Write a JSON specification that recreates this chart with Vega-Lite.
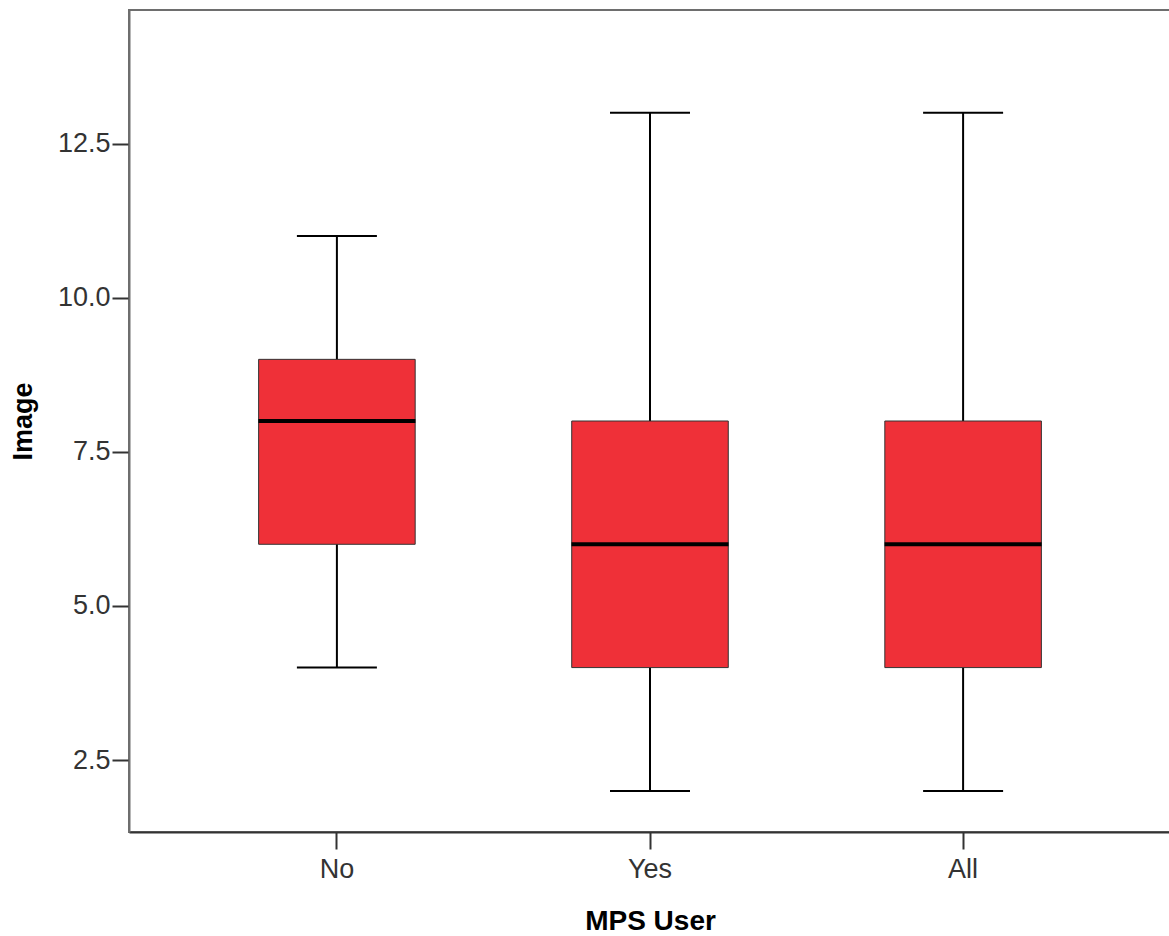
{
  "$schema": "https://vega.github.io/schema/vega-lite/v6.json",
  "autosize": {"type": "none"},
  "padding": {"left": 129, "top": 10, "right": 0, "bottom": 104},
  "width": 1042,
  "height": 822,
  "background": "white",
  "config": {
    "view": {"stroke": "#6e6e6e", "strokeWidth": 2},
    "font": "Liberation Sans",
    "axis": {
      "labelFont": "Liberation Sans",
      "labelFontSize": 27,
      "labelColor": "#333333",
      "titleFont": "Liberation Sans",
      "titleFontSize": 27,
      "titleFontWeight": "bold",
      "titleColor": "#000000",
      "tickSize": 17,
      "tickWidth": 2,
      "domainWidth": 2,
      "grid": false
    }
  },
  "data": {
    "values": [
      {"group": "No", "min": 4, "q1": 6, "median": 8, "q3": 9, "max": 11},
      {"group": "Yes", "min": 2, "q1": 4, "median": 6, "q3": 8, "max": 13},
      {"group": "All", "min": 2, "q1": 4, "median": 6, "q3": 8, "max": 13}
    ]
  },
  "encoding": {
    "x": {
      "field": "group",
      "type": "nominal",
      "sort": ["No", "Yes", "All"],
      "scale": {"type": "band", "paddingInner": 0.5, "paddingOuter": 0.414},
      "axis": {
        "title": "MPS User",
        "titleFontSize": 28,
        "labelAngle": 0,
        "labelPadding": 7,
        "titlePadding": 25,
        "domainColor": "#333333",
        "tickColor": "#333333"
      }
    }
  },
  "layer": [
    {
      "mark": {"type": "rule", "color": "#000000", "strokeWidth": 2},
      "encoding": {
        "y": {
          "field": "min",
          "type": "quantitative",
          "scale": {"domain": [1.333, 14.667], "nice": false, "zero": false},
          "axis": {
            "title": "Image",
            "values": [2.5, 5, 7.5, 10, 12.5],
            "format": ".1f",
            "labelPadding": 2,
            "titlePadding": 20,
            "domainColor": "#6e6e6e",
            "tickColor": "#333333"
          }
        },
        "y2": {"field": "max"}
      }
    },
    {
      "mark": {"type": "tick", "color": "#000000", "size": 80, "thickness": 2, "opacity": 1},
      "encoding": {"y": {"field": "min", "type": "quantitative"}}
    },
    {
      "mark": {"type": "tick", "color": "#000000", "size": 80, "thickness": 2, "opacity": 1},
      "encoding": {"y": {"field": "max", "type": "quantitative"}}
    },
    {
      "mark": {"type": "bar", "fill": "#ef3038", "stroke": "#333333", "strokeWidth": 1, "opacity": 1},
      "encoding": {
        "y": {"field": "q1", "type": "quantitative"},
        "y2": {"field": "q3"}
      }
    },
    {
      "mark": {"type": "tick", "color": "#000000", "size": 157, "thickness": 4, "opacity": 1},
      "encoding": {"y": {"field": "median", "type": "quantitative"}}
    }
  ]
}
